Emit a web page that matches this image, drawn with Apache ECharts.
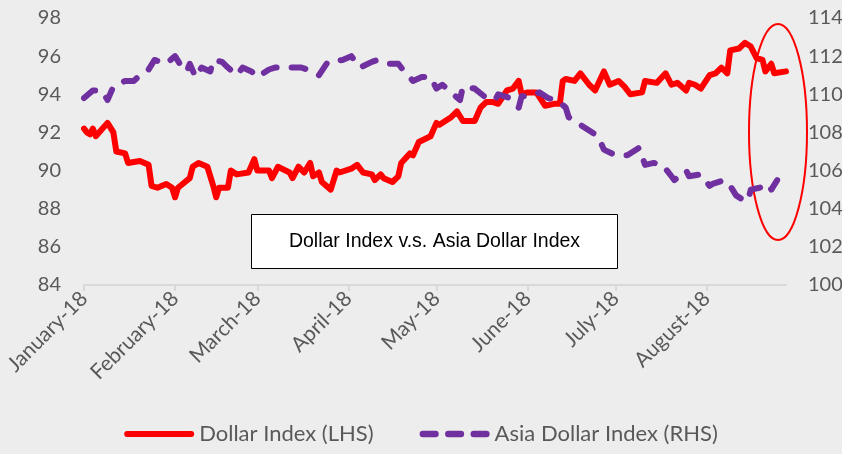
<!DOCTYPE html>
<html>
<head>
<meta charset="utf-8">
<script src="https://cdn.jsdelivr.net/npm/echarts@6/dist/echarts.min.js"></script>
<style>
  html, body { margin: 0; padding: 0; background: #ededed; }
  #chart { width: 842px; height: 454px; }
</style>
</head>
<body>
<div id="chart"></div>
<script>
// Dollar Index (left axis)
const dollarDates = [
  '2018-01-01','2018-01-02','2018-01-03','2018-01-04','2018-01-05','2018-01-09','2018-01-11','2018-01-12',
  '2018-01-15','2018-01-16','2018-01-20','2018-01-23','2018-01-24','2018-01-26','2018-01-29','2018-01-31',
  '2018-02-01','2018-02-02','2018-02-06','2018-02-07','2018-02-09','2018-02-12','2018-02-14','2018-02-15',
  '2018-02-16','2018-02-19','2018-02-20','2018-02-22','2018-02-26','2018-02-28','2018-03-01','2018-03-05',
  '2018-03-06','2018-03-08','2018-03-12','2018-03-13','2018-03-15','2018-03-17','2018-03-19','2018-03-20',
  '2018-03-22','2018-03-23','2018-03-26','2018-03-28','2018-03-29','2018-04-02','2018-04-04','2018-04-06',
  '2018-04-09','2018-04-10','2018-04-12','2018-04-13','2018-04-16','2018-04-18','2018-04-19','2018-04-22',
  '2018-04-23','2018-04-25','2018-04-29','2018-05-01','2018-05-02','2018-05-06','2018-05-08','2018-05-10',
  '2018-05-14','2018-05-16','2018-05-18','2018-05-20','2018-05-22','2018-05-25','2018-05-27','2018-05-29',
  '2018-05-30','2018-06-01','2018-06-04','2018-06-07','2018-06-10','2018-06-12','2018-06-13','2018-06-14',
  '2018-06-17','2018-06-19','2018-06-22','2018-06-24','2018-06-27','2018-06-29','2018-07-02','2018-07-04',
  '2018-07-06','2018-07-10','2018-07-11','2018-07-15','2018-07-18','2018-07-20','2018-07-22','2018-07-25',
  '2018-07-26','2018-07-28','2018-07-30','2018-08-02','2018-08-04','2018-08-06','2018-08-08','2018-08-09',
  '2018-08-12','2018-08-14','2018-08-16','2018-08-18','2018-08-20','2018-08-21','2018-08-23','2018-08-24',
  '2018-08-28'
];
const dollarValues = [
  92.2, 92.0, 91.9, 92.2, 91.8, 92.5, 92.0, 91.0,
  90.9, 90.4, 90.5, 90.3, 89.2, 89.1, 89.3, 89.1,
  88.6, 89.1, 89.6, 90.2, 90.4, 90.2, 89.2, 88.6,
  89.1, 89.1, 90.0, 89.8, 89.9, 90.6, 90.0, 90.0,
  89.6, 90.2, 89.9, 89.6, 90.2, 89.9, 90.4, 89.7,
  89.9, 89.4, 89.0, 90.0, 89.9, 90.1, 90.3, 89.9,
  89.8, 89.5, 89.8, 89.6, 89.4, 89.7, 90.4, 90.9,
  90.8, 91.5, 91.8, 92.5, 92.4, 92.8, 93.1, 92.6,
  92.6, 93.3, 93.6, 93.6, 93.5, 94.2, 94.3, 94.7,
  94.0, 94.1, 94.1, 93.4, 93.5, 93.5, 94.7, 94.8,
  94.7, 95.1, 94.5, 94.2, 95.2, 94.5, 94.7, 94.4,
  94.0, 94.1, 94.7, 94.6, 95.1, 94.5, 94.6, 94.2,
  94.6, 94.5, 94.3, 95.0, 95.1, 95.4, 95.1, 96.3,
  96.4, 96.7, 96.5, 95.9, 95.8, 95.2, 95.6, 95.1,
  95.2
];

// Asia Dollar Index (right axis)
const asiaDates = [
  '2018-01-01','2018-01-04','2018-01-07','2018-01-09','2018-01-11','2018-01-15','2018-01-18','2018-01-20',
  '2018-01-23','2018-01-25','2018-01-29','2018-02-01','2018-02-03','2018-02-05','2018-02-06','2018-02-08',
  '2018-02-10','2018-02-13','2018-02-14','2018-02-17','2018-02-19','2018-02-22','2018-02-24','2018-02-27',
  '2018-03-01','2018-03-05','2018-03-07','2018-03-13','2018-03-16','2018-03-20','2018-03-22','2018-03-25',
  '2018-03-30','2018-04-02','2018-04-05','2018-04-09','2018-04-11','2018-04-15','2018-04-18','2018-04-20',
  '2018-04-23','2018-04-26','2018-04-29','2018-05-01','2018-05-03','2018-05-06','2018-05-09','2018-05-10',
  '2018-05-14','2018-05-18','2018-05-21','2018-05-22','2018-05-26','2018-05-29','2018-05-30','2018-06-02',
  '2018-06-05','2018-06-08','2018-06-11','2018-06-14','2018-06-15','2018-06-18','2018-06-22','2018-06-25',
  '2018-06-27','2018-07-01','2018-07-05','2018-07-09','2018-07-11','2018-07-14','2018-07-17','2018-07-20',
  '2018-07-21','2018-07-25','2018-07-26','2018-07-30','2018-08-02','2018-08-03','2018-08-07','2018-08-09',
  '2018-08-11','2018-08-13','2018-08-15','2018-08-16','2018-08-19','2018-08-22','2018-08-23','2018-08-25'
];
const asiaValues = [
  109.8, 110.2, 110.2, 109.7, 110.4, 110.7, 110.7, 111.0,
  111.3, 111.8, 111.6, 112.0, 111.5, 111.2, 111.6, 110.9,
  111.4, 111.2, 111.8, 111.7, 111.4, 111.0, 111.4, 111.2,
  110.9, 111.3, 111.4, 111.4, 111.4, 111.2, 111.0, 111.7,
  111.8, 112.0, 111.4, 111.7, 111.8, 111.6, 111.6, 111.2,
  110.7, 110.9, 110.9, 110.3, 110.5, 110.1, 109.7, 110.4,
  110.3, 109.8, 109.7, 110.0, 109.8, 109.3, 109.9, 109.9,
  110.1, 109.8, 109.7, 109.3, 108.8, 108.5, 108.1, 107.8,
  107.1, 106.8, 106.8, 107.2, 106.3, 106.4, 106.3, 105.7,
  105.5, 106.0, 105.7, 105.8, 105.2, 105.3, 105.5, 105.2,
  104.7, 104.5, 104.4, 105.0, 105.1, 105.3, 105.0, 105.5
];

const monthLabels = ['January-18', 'February-18', 'March-18', 'April-18', 'May-18', 'June-18', 'July-18', 'August-18'];
const leftTicks = { min: 84, max: 98, step: 2 };
const rightTicks = { min: 100, max: 114, step: 2 };

// one category per calendar day, Jan 1 .. Aug 28
const monthDays = [31, 28, 31, 30, 31, 30, 31, 28];
const days = [];
monthDays.forEach((n, m) => {
  for (let d = 1; d <= n; d++) {
    days.push('2018-' + String(m + 1).padStart(2, '0') + '-' + String(d).padStart(2, '0'));
  }
});
const isMonthStart = (i, v) => v.slice(8) === '01';

const chart = echarts.init(document.getElementById('chart'));

const labelColor = '#595959';
const labelFont = 'Lato, "Open Sans", sans-serif';

// legend swatches: thick solid bar and three rounded dashes
const solidIcon = 'path://M3,0 H69 A3,3 0 0 1 69,6 H3 A3,3 0 0 1 3,0 Z';
const dashIcon = 'path://M3,0 H15 A3,3 0 0 1 15,6 H3 A3,3 0 0 1 3,0 Z'
  + ' M27,0 H39 A3,3 0 0 1 39,6 H27 A3,3 0 0 1 27,0 Z'
  + ' M51,0 H63 A3,3 0 0 1 63,6 H51 A3,3 0 0 1 51,0 Z';

const option = {
  backgroundColor: '#ededed',
  animation: false,
  grid: {
    left: 84, right: 56, top: 18, bottom: 169,
    outerBoundsMode: 'none'
  },
  legend: {
    bottom: 4,
    left: 'center',
    itemWidth: 70,
    itemHeight: 7,
    itemGap: 46,
    textStyle: { color: labelColor, fontSize: 22, fontFamily: labelFont },
    data: [
      { name: 'Dollar Index (LHS)', icon: solidIcon },
      { name: 'Asia Dollar Index (RHS)', icon: dashIcon }
    ]
  },
  xAxis: {
    type: 'category',
    data: days,
    boundaryGap: false,
    axisLine: { lineStyle: { color: '#d9d9d9', width: 2 } },
    axisTick: {
      show: true, length: 6,
      interval: isMonthStart,
      lineStyle: { color: '#d9d9d9', width: 2 }
    },
    splitLine: { show: false },
    axisLabel: {
      interval: isMonthStart,
      rotate: 45,
      margin: 10,
      color: labelColor,
      fontSize: 21,
      fontFamily: labelFont,
      formatter: (v) => monthLabels[parseInt(v.slice(5, 7), 10) - 1]
    }
  },
  yAxis: [
    {
      type: 'value',
      min: leftTicks.min, max: leftTicks.max, interval: leftTicks.step,
      axisLine: { show: false },
      axisTick: { show: false },
      splitLine: { show: false },
      axisLabel: { color: labelColor, fontSize: 20, fontFamily: labelFont, margin: 23 }
    },
    {
      type: 'value',
      min: rightTicks.min, max: rightTicks.max, interval: rightTicks.step,
      axisLine: { show: false },
      axisTick: { show: false },
      splitLine: { show: false },
      axisLabel: { color: labelColor, fontSize: 20, fontFamily: labelFont, margin: 22 }
    }
  ],
  series: [
    {
      name: 'Dollar Index (LHS)',
      type: 'line',
      yAxisIndex: 0,
      symbol: 'none',
      color: '#ff0000',
      lineStyle: { width: 6, cap: 'round', join: 'round' },
      data: dollarDates.map((d, i) => [d, dollarValues[i]])
    },
    {
      name: 'Asia Dollar Index (RHS)',
      type: 'line',
      yAxisIndex: 1,
      symbol: 'none',
      color: '#7030a0',
      lineStyle: { width: 6, type: [14, 15], cap: 'round', join: 'round' },
      data: asiaDates.map((d, i) => [d, asiaValues[i]])
    }
  ],
  graphic: [
    {
      type: 'group',
      left: 251, top: 214,
      children: [
        {
          type: 'rect',
          shape: { x: 0, y: 0, width: 366, height: 54 },
          style: { fill: '#ffffff', stroke: '#000000', lineWidth: 1 }
        },
        {
          type: 'text',
          x: 183, y: 27,
          style: {
            text: 'Dollar Index v.s. Asia Dollar Index',
            fill: '#000000',
            font: '19.5px "Liberation Sans", Arial, sans-serif',
            align: 'center',
            verticalAlign: 'middle'
          }
        }
      ]
    },
    {
      type: 'ellipse',
      shape: { cx: 778, cy: 132, rx: 29, ry: 108 },
      style: { fill: null, stroke: '#ff0000', lineWidth: 2 }
    }
  ]
};

chart.setOption(option);
</script>
</body>
</html>
